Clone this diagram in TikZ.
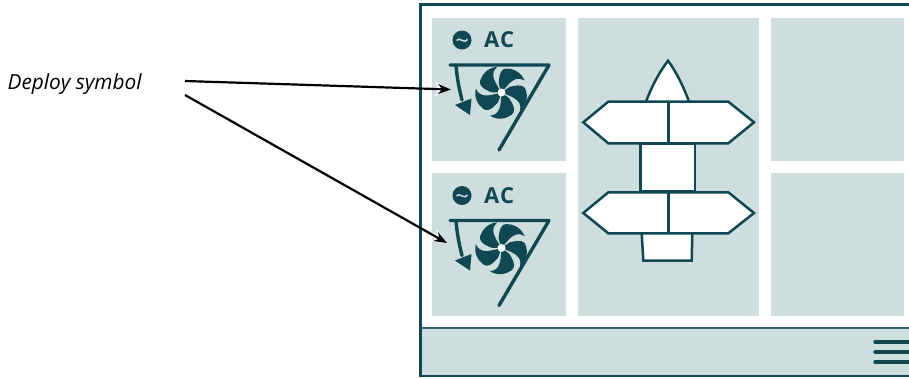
\documentclass[tikz,border=0pt]{standalone}
\usepackage{fontspec}
\setmainfont{Open Sans}
\usetikzlibrary{arrows.meta}
\definecolor{teal}{HTML}{0F4853}
\definecolor{panel}{HTML}{CEDDDD}
\tikzset{
  x=1bp,y=-1bp,
  panelbox/.style={fill=panel,draw=none},
  frameline/.style={draw=teal,line width=2.8bp},
  iconline/.style={draw=teal,line width=3.4bp,line cap=round,line join=round},
  shipline/.style={draw=teal,line width=2.5bp,fill=white,line join=miter},
  callout/.style={draw=black,line width=2.2bp,-{Stealth[length=13bp,width=10bp]}},
  halo/.style={draw=white,line width=4.5bp,-{Stealth[length=16bp,width=14bp]}},
  label/.style={font=\itshape\fontsize{20.8bp}{24bp}\selectfont,text=black,inner sep=0pt},
  aclabel/.style={font=\fontsize{22bp}{24bp}\selectfont\bfseries\addfontfeatures{LetterSpace=6},text=teal,inner sep=0pt},
}
\newcommand{\fanicon}[1]{%
  \begin{scope}[shift={(0,#1)}]
    \fill[teal] (462,40) circle (9.5);
    \draw[panel,line width=1.5bp] (456.5,40.5) .. controls (459.5,36) and (464.5,45) .. (467.5,39.5);
    \node[aclabel,anchor=west] (ac#1) at (484,40) {AC};
    \draw[iconline] (450,65) -- (549,65) -- (499,150);
    \draw[iconline] (456,65) .. controls (457,78) and (459,88) .. (462,100);
    \fill[teal] (455,105) -- (471.5,98.5) -- (470,115) -- cycle;
    \foreach \a in {0,72,144,216,288}{
      \fill[teal,shift={(501.5,92.5)},rotate=\a]
        (0,0) .. controls (-1,-5) and (-4,-9) .. (-2.5,-13)
        .. controls (-2,-19) and (0,-24) .. (5,-24)
        .. controls (12,-24) and (20,-20) .. (23,-12)
        .. controls (14,-17) and (9,-11) .. (0,0) -- cycle;
    }
    \fill[white] (501.5,92.5) circle (4);
  \end{scope}}
\begin{document}
\begin{tikzpicture}
\useasboundingbox (0,0) rectangle (909,378);
\fill[white] (0,0) rectangle (909,378);
\fill[panelbox] (421,328) rectangle (909,376);
\draw[frameline] (909,4.8) -- (420.5,4.8) -- (420.5,376) -- (909,376);
\draw[draw=teal!85!white,line width=1.6bp] (421,328) -- (909,328);
\fill[panelbox] (432,18) rectangle (566,161);
\fill[panelbox] (432,173) rectangle (566,316);
\fill[panelbox] (578,18) rectangle (759,316);
\fill[panelbox] (771,18) rectangle (904,161);
\fill[panelbox] (771,173) rectangle (904,316);
\draw[teal,line width=3.4bp,line cap=round] (875,342) -- (909,342) (875,352) -- (909,352) (875,362) -- (909,362);
\fanicon{0}
\fanicon{155.5}
% ship
\draw[shipline] (646,101.7) .. controls (653,83) and (661,70) .. (668,60.7) .. controls (675,70) and (683,85) .. (689,101.7);
\draw[shipline] (641.7,233.3) -- (643.3,260.7) -- (691.7,260.7) -- (692.3,233.3);
\draw[shipline] (640.7,143.3) rectangle (695,191.7);
\draw[shipline] (583.3,122.3) -- (608.3,101.7) -- (728.3,101.7) -- (754,122.3) -- (728.3,143.3) -- (608.3,143.3) -- cycle;
\draw[shipline] (583.3,213) -- (608.3,192.3) -- (728.3,192.3) -- (754,213) -- (728.3,233.3) -- (608.3,233.3) -- cycle;
\draw[teal,line width=3.4bp] (668.7,101.7) -- (668.7,143.3) (668.7,192.3) -- (668.7,233.3);
% callouts
\node[label,anchor=west] (lbl) at (7.5,84.5) {Deploy symbol};
\coordinate (s1) at (185,81);
\coordinate (s2) at (185,95);
\coordinate (t1) at (451,89.5);
\coordinate (t2) at (447,243);
\path (s1) -- (t1) coordinate[pos=.94] (h1);
\path (s2) -- (t2) coordinate[pos=.93] (h2);
\draw[halo] (h1) -- (t1);
\draw[halo] (h2) -- (t2);
\draw[callout] (s1) -- (t1);
\draw[callout] (s2) -- (t2);
\end{tikzpicture}
\end{document}
